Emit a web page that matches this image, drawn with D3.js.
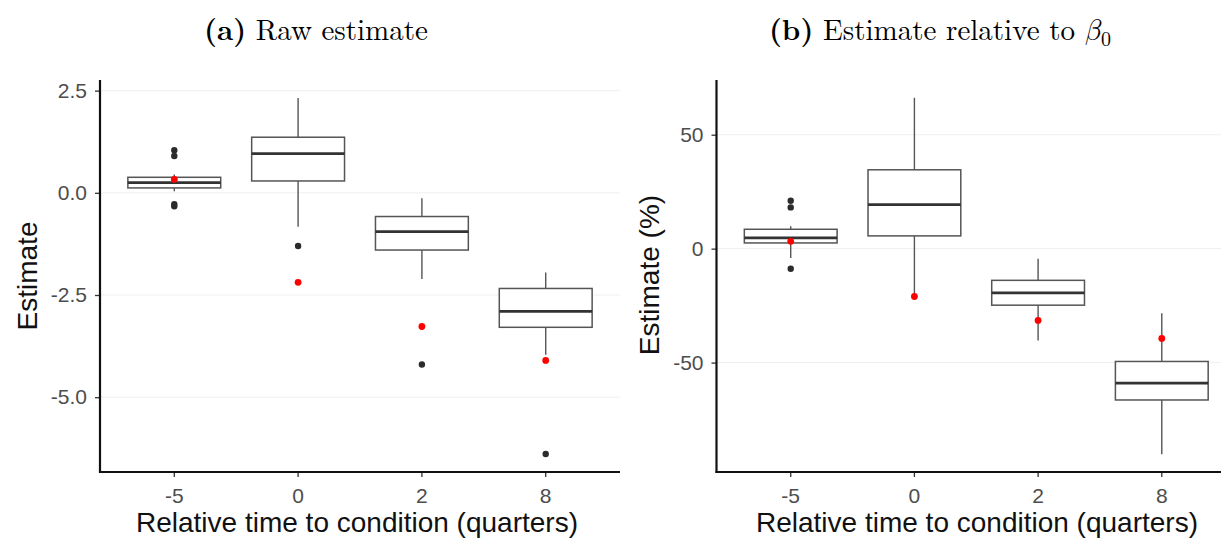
<!DOCTYPE html>
<html>
<head>
<meta charset="utf-8">
<script src="https://cdn.jsdelivr.net/npm/d3@7"></script>
<style>
  html, body { margin: 0; padding: 0; background: #fff; }
  svg { display: block; }
</style>
</head>
<body>
<svg id="chart" width="1221" height="538"></svg>
<script>
// Quarters relative to the condition
const categories = ["-5", "0", "2", "8"];

// Panel (a): raw estimate box summaries
const rawLower   = [0.04, -0.83, -2.11, -3.96];
const rawQ1      = [0.12, 0.29, -1.40, -3.29];
const rawMedian  = [0.25, 0.96, -0.95, -2.90];
const rawQ3      = [0.38, 1.36, -0.58, -2.34];
const rawUpper   = [0.45, 2.32, -0.13, -1.95];
const rawOutliers = [[1.04, 0.90, -0.28, -0.33], [-1.30], [-4.20], [-6.39]];
const rawPoint   = [0.33, -2.19, -3.27, -4.10];
const rawTicks   = [2.5, 0, -2.5, -5];

// Panel (b): estimate relative to beta_0, in percent
const relLower   = [-4.1, -20.6, -40.3, -90.2];
const relQ1      = [2.5, 5.6, -24.8, -66.4];
const relMedian  = [4.7, 19.3, -19.4, -59.0];
const relQ3      = [8.5, 34.6, -13.9, -49.5];
const relUpper   = [9.8, 66.2, -4.4, -28.3];
const relOutliers = [[21.0, 18.1, -8.8], [], [], []];
const relPoint   = [3.2, -21.0, -31.5, -39.4];
const relTicks   = [50, 0, -50];

const svg = d3.select("#chart");
const sans = "'Liberation Sans', Arial, Helvetica, sans-serif";
const serif = "'Latin Modern Roman', 'Liberation Serif', 'DejaVu Serif', serif";
const mathFont = "'Latin Modern Math', 'Latin Modern Roman', 'DejaVu Serif', serif";
const hyphen = f => d => f(d).replace("\u2212", "-");

function panel(opts) {
  const g = svg.append("g");
  const top = 80, bottom = 472;
  const x = d3.scaleBand().domain(categories)
    .range([opts.left, opts.right]).paddingOuter(0.1).paddingInner(0);
  // discrete expansion of 0.6 category on each side
  const step = (opts.right - opts.left) / (categories.length + 0.2);
  const xc = d => opts.left + step * (categories.indexOf(d) + 0.6);
  const y = d3.scaleLinear().domain(opts.yDomain).range([bottom, top]);
  const bw = step * 0.75;

  // faint horizontal grid
  g.append("g").selectAll("line").data(opts.ticks).join("line")
    .attr("x1", opts.left).attr("x2", opts.right)
    .attr("y1", d => y(d)).attr("y2", d => y(d))
    .attr("stroke", "#efefef").attr("stroke-width", 1);

  const boxes = categories.map((c, i) => ({
    c, lo: opts.lower[i], q1: opts.q1[i], md: opts.median[i],
    q3: opts.q3[i], hi: opts.upper[i], out: opts.outliers[i], pt: opts.point[i]
  }));

  const bg = g.append("g").selectAll("g").data(boxes).join("g");
  // whiskers
  bg.append("line")
    .attr("x1", d => xc(d.c)).attr("x2", d => xc(d.c))
    .attr("y1", d => y(d.q3)).attr("y2", d => y(d.hi))
    .attr("stroke", "#555").attr("stroke-width", 1.4);
  bg.append("line")
    .attr("x1", d => xc(d.c)).attr("x2", d => xc(d.c))
    .attr("y1", d => y(d.q1)).attr("y2", d => y(d.lo))
    .attr("stroke", "#555").attr("stroke-width", 1.4);
  // box
  bg.append("rect")
    .attr("x", d => xc(d.c) - bw / 2).attr("width", bw)
    .attr("y", d => y(d.q3)).attr("height", d => y(d.q1) - y(d.q3))
    .attr("fill", "#fff").attr("stroke", "#555").attr("stroke-width", 1.5);
  // median
  bg.append("line")
    .attr("x1", d => xc(d.c) - bw / 2).attr("x2", d => xc(d.c) + bw / 2)
    .attr("y1", d => y(d.md)).attr("y2", d => y(d.md))
    .attr("stroke", "#333").attr("stroke-width", 2.8);
  // outliers
  bg.selectAll("circle.out").data(d => d.out.map(v => ({ c: d.c, v }))).join("circle")
    .attr("class", "out")
    .attr("cx", d => xc(d.c)).attr("cy", d => y(d.v)).attr("r", 3.2)
    .attr("fill", "#2b2b2b");
  // point estimate
  bg.append("circle")
    .attr("cx", d => xc(d.c)).attr("cy", d => y(d.pt)).attr("r", 3.4)
    .attr("fill", "#ff0000");

  // y axis
  const ya = g.append("g").attr("transform", `translate(${opts.left},0)`)
    .call(d3.axisLeft(y).tickValues(opts.ticks).tickFormat(opts.fmt).tickSize(5).tickPadding(8));
  ya.select(".domain").remove();
  ya.selectAll(".tick line").attr("stroke", "#333").attr("stroke-width", 1.3);
  ya.selectAll(".tick text").attr("fill", "#4d4d4d")
    .style("font-family", sans).style("font-size", "21px");
  g.append("line").attr("x1", opts.left).attr("x2", opts.left)
    .attr("y1", top).attr("y2", bottom + 1)
    .attr("stroke", "#111").attr("stroke-width", 2.2);

  // x axis
  const xa = g.append("g").attr("transform", `translate(0,${bottom})`)
    .call(d3.axisBottom(x).tickSize(5).tickPadding(11));
  xa.select(".domain").remove();
  xa.selectAll(".tick").attr("transform", d => `translate(${xc(d)},0)`);
  xa.selectAll(".tick line").attr("stroke", "#333").attr("stroke-width", 1.3);
  xa.selectAll(".tick text").attr("fill", "#4d4d4d")
    .style("font-family", sans).style("font-size", "21px");
  g.append("line").attr("x1", opts.left - 1).attr("x2", opts.right)
    .attr("y1", bottom).attr("y2", bottom)
    .attr("stroke", "#111").attr("stroke-width", 2.2);

  // axis titles
  g.append("text").attr("x", opts.xTitleX).attr("y", 532)
    .attr("text-anchor", "middle").attr("fill", "#111")
    .style("font-family", sans).style("font-size", "28px")
    .text("Relative time to condition (quarters)");
  g.append("text")
    .attr("transform", `translate(${opts.yTitleX},${opts.yTitleY}) rotate(-90)`)
    .attr("text-anchor", "middle").attr("fill", "#111")
    .style("font-family", sans).style("font-size", "28px")
    .text(opts.yTitle);
}

panel({
  left: 100, right: 620, yDomain: [-6.83, 2.76], ticks: rawTicks,
  fmt: hyphen(d3.format(".1f")),
  lower: rawLower, q1: rawQ1, median: rawMedian, q3: rawQ3, upper: rawUpper,
  outliers: rawOutliers, point: rawPoint,
  yTitle: "Estimate", yTitleX: 37, yTitleY: 276, xTitleX: 357
});

panel({
  left: 716.5, right: 1236, yDomain: [-98, 74], ticks: relTicks,
  fmt: hyphen(d3.format("d")),
  lower: relLower, q1: relQ1, median: relMedian, q3: relQ3, upper: relUpper,
  outliers: relOutliers, point: relPoint,
  yTitle: "Estimate (%)", yTitleX: 659, yTitleY: 275, xTitleX: 977
});

// panel headings
const t1 = svg.append("text").attr("x", 316).attr("y", 40)
  .attr("text-anchor", "middle").attr("fill", "#000")
  .style("font-family", serif).style("font-size", "29px");
t1.append("tspan").attr("font-weight", "bold").text("(a)");
t1.append("tspan").attr("font-weight", "normal").text(" Raw estimate");

const t2 = svg.append("text").attr("x", 940).attr("y", 40)
  .attr("text-anchor", "middle").attr("fill", "#000")
  .style("font-family", serif).style("font-size", "29px");
t2.append("tspan").attr("font-weight", "bold").text("(b)");
t2.append("tspan").attr("font-weight", "normal").text(" Estimate relative to ");
t2.append("tspan").attr("font-weight", "normal").style("font-family", mathFont)
  .text("\u{1D6FD}");
t2.append("tspan").attr("font-weight", "normal").attr("dy", 6).style("font-size", "20px").text("0");
</script>
</body>
</html>
